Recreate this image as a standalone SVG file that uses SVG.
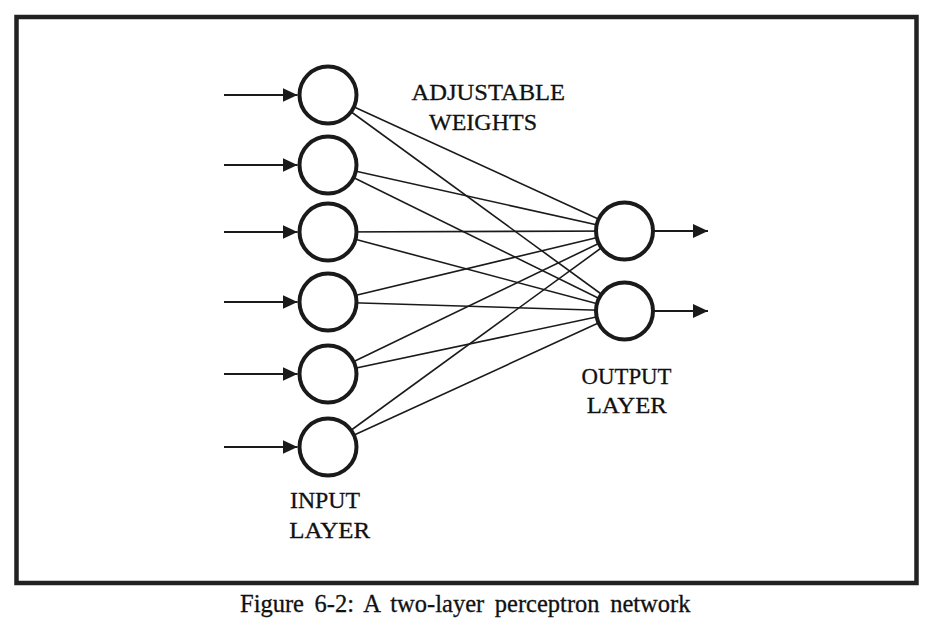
<svg xmlns="http://www.w3.org/2000/svg" width="933" height="625" viewBox="0 0 933 625">
  <style>
    .node { fill: #ffffff; stroke: #1a1a1a; stroke-width: 4; }
    .edge { stroke: #1a1a1a; stroke-width: 1.6; fill: none; }
    .io { stroke: #1a1a1a; stroke-width: 2; fill: none; }
    .lbl { font-family: "Liberation Serif", "Times New Roman", serif; font-size: 24px; fill: #111; stroke: #111; stroke-width: 0.3; }
    .cap { font-family: "Liberation Serif", "Times New Roman", serif; font-size: 24.5px; fill: #111; stroke: #111; stroke-width: 0.3; word-spacing: 4.5px; }
  </style>
  <defs>
    <marker id="arr" markerUnits="userSpaceOnUse" markerWidth="16" markerHeight="14" refX="15" refY="7" orient="auto">
      <path d="M0,0 L15,7 L0,14 Z" fill="#1a1a1a"/>
    </marker>
  </defs>
  <rect x="0" y="0" width="933" height="625" fill="#ffffff"/>
  <rect id="frame" x="16.5" y="17" width="900" height="566" fill="none" stroke="#222" stroke-width="4.5"/>

  <g id="connectors">
    <g id="weights">
      <line class="edge" x1="328" y1="95" x2="624.5" y2="231"/>
      <line class="edge" x1="328" y1="95" x2="624.5" y2="311"/>
      <line class="edge" x1="328" y1="165" x2="624.5" y2="231"/>
      <line class="edge" x1="328" y1="165" x2="624.5" y2="311"/>
      <line class="edge" x1="328" y1="232" x2="624.5" y2="231"/>
      <line class="edge" x1="328" y1="232" x2="624.5" y2="311"/>
      <line class="edge" x1="328" y1="302" x2="624.5" y2="231"/>
      <line class="edge" x1="328" y1="302" x2="624.5" y2="311"/>
      <line class="edge" x1="328" y1="374" x2="624.5" y2="231"/>
      <line class="edge" x1="328" y1="374" x2="624.5" y2="311"/>
      <line class="edge" x1="328" y1="447" x2="624.5" y2="231"/>
      <line class="edge" x1="328" y1="447" x2="624.5" y2="311"/>
    </g>
    <g id="inputs">
      <line class="io" x1="224" y1="95" x2="297.5" y2="95" marker-end="url(#arr)"/>
      <line class="io" x1="224" y1="165" x2="297.5" y2="165" marker-end="url(#arr)"/>
      <line class="io" x1="224" y1="232" x2="297.5" y2="232" marker-end="url(#arr)"/>
      <line class="io" x1="224" y1="302" x2="297.5" y2="302" marker-end="url(#arr)"/>
      <line class="io" x1="224" y1="374" x2="297.5" y2="374" marker-end="url(#arr)"/>
      <line class="io" x1="224" y1="447" x2="297.5" y2="447" marker-end="url(#arr)"/>
    </g>
    <g id="outputs">
      <line class="io" x1="654" y1="231" x2="708" y2="231" marker-end="url(#arr)"/>
      <line class="io" x1="654" y1="311" x2="708" y2="311" marker-end="url(#arr)"/>
    </g>
  </g>

  <g id="in1"><circle class="node" cx="328" cy="95" r="28.5"/></g>
  <g id="in2"><circle class="node" cx="328" cy="165" r="28.5"/></g>
  <g id="in3"><circle class="node" cx="328" cy="232" r="28.5"/></g>
  <g id="in4"><circle class="node" cx="328" cy="302" r="28.5"/></g>
  <g id="in5"><circle class="node" cx="328" cy="374" r="28.5"/></g>
  <g id="in6"><circle class="node" cx="328" cy="447" r="28.5"/></g>
  <g id="out1"><circle class="node" cx="624.5" cy="231" r="28.5"/></g>
  <g id="out2"><circle class="node" cx="624.5" cy="311" r="28.5"/></g>

  <g id="labels">
    <text class="lbl" x="411.5" y="100" textLength="153.5" lengthAdjust="spacingAndGlyphs">ADJUSTABLE</text>
    <text class="lbl" x="429" y="130" textLength="108" lengthAdjust="spacingAndGlyphs">WEIGHTS</text>
    <text class="lbl" x="581.5" y="383.5" textLength="90" lengthAdjust="spacingAndGlyphs">OUTPUT</text>
    <text class="lbl" x="586.7" y="413.3" textLength="80" lengthAdjust="spacingAndGlyphs">LAYER</text>
    <text class="lbl" x="290" y="508" textLength="70" lengthAdjust="spacingAndGlyphs">INPUT</text>
    <text class="lbl" x="289.3" y="538" textLength="80.7" lengthAdjust="spacingAndGlyphs">LAYER</text>
  </g>
  <text id="caption" class="cap" x="240" y="611.5">Figure 6-2: A two-layer perceptron network</text>
</svg>
